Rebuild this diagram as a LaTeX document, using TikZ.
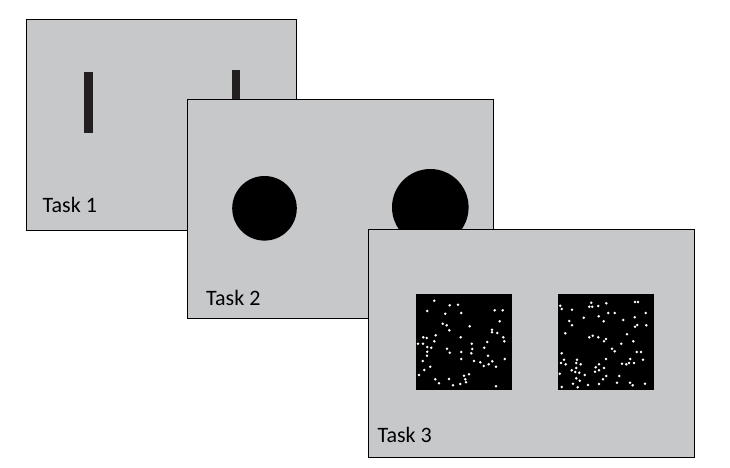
\documentclass[tikz,border=0pt]{standalone}
\usepackage{fontspec}
\setmainfont{Carlito}
\definecolor{screengray}{RGB}{199,200,202}
\definecolor{bardark}{RGB}{35,31,32}
\tikzset{
  panel/.style={draw=black,fill=screengray,line width=0.9pt},
  tasklabel/.style={anchor=base west,inner sep=0pt,font=\fontsize{22}{26}\selectfont},
  barstim/.style={fill=bardark},
  discstim/.style={fill=black},
  dotfield/.style={fill=black},
  dot/.style={fill=white}
}

\begin{document}
\begin{tikzpicture}[x=1pt,y=-1pt]
  \useasboundingbox (0,0) rectangle (730,467);

  % Task 1 : two bars
  \draw[panel] (26.5,19.3) rectangle (296.5,230);
  \fill[barstim] (84,72.3) rectangle (92.7,132.7);
  \fill[barstim] (231.7,70.3) rectangle (240,134);
  \node[tasklabel] (task1) at (42.5,212) {Task 1};

  % Task 2 : two discs
  \draw[panel] (187.3,99.3) rectangle (493.3,318.3);
  \fill[discstim] (264.5,208.3) circle[radius=32.3];
  \fill[discstim] (430.3,207.3) circle[radius=38.3];
  \node[tasklabel] (task2) at (206,305) {Task 2};

  % Task 3 : two dot fields
  \draw[panel] (368.3,229.3) rectangle (694.3,457.3);
  \fill[dotfield] (416,294) rectangle (512,389.7);
  \fill[dotfield] (558,294) rectangle (654,389.7);
  \begin{scope}[shift={(416,294)}]
    \foreach \x/\y in {18.3/6.7,33.7/11.3,42/10.7,11.3/17,29.3/19.7,45.3/19,78.7/16.3,86.7/16.3,
      83.7/27.3,26.7/29.7,30.7/31.3,33.3/36.3,53.7/32.3,76/35.7,76/38.3,81.3/39,7.3/43.3,
      10.7/44,19.7/41.3,44.7/43.3,87.3/43.3,88.3/47.3,18.3/47.3,2/49.7,7/49.7,11.3/53,
      15.3/53.7,31/54.7,33.7/58.7,55.7/49.7,56.3/55,55.3/59.3,71.3/48,68.3/53.7,11.3/57.7,
      11/61.7,45.3/58,72/61.7,6.7/67,14.3/72.7,45.3/65,58/67,64.3/68.3,67.7/72,72.7/70.3,
      76.3/67.3,80/72.7,88.7/65,8.3/76,3/81,33/85,19.3/85.3,23/89.3,37/91.3,44.3/90,
      48/81.7,49.3/85.3,50/88.3,53/80.3,80/92.3}
      \fill[dot] (\x,\y) circle[radius=1.4];
  \end{scope}
  \begin{scope}[shift={(558,294)}]
    \foreach \x/\y in {2.3/11.7,3.7/15,14/15.7,33.3/8.7,31.3/12.7,34.3/12.7,40.3/12,48.3/9.3,
      77/8,80/8,50.3/19,56.7/19,40.7/22.3,25.7/23.7,45.7/27.3,65.3/26,76.7/23.3,87.7/19,
      11.3/27,14/31.3,77/32.7,79.3/31,88.3/31.3,7.3/39.3,31.3/43.3,34.7/41.7,40.3/43.3,
      48/45,46/47.3,69/40.3,63.3/49.7,75.3/47.3,54/54.7,56.7/57.3,3.7/59.3,6/65.7,3/69,
      7.7/70.3,19/65.7,18.3/69,22.7/70.3,48/65,41/70.3,37.7/73.3,46/74,37/77.7,41/76.3,
      64/69.7,68.3/70.3,71/69,72.3/65,76/69,78.7/58,83/58,85/65.7,13.7/76.3,18.3/74,
      17.3/78,21.3/78.7,26.7/81,1.7/79.7,18.3/84.3,21.7/86.7,15/89.7,3.7/93,19.7/93.3,
      30/91,41/90,45/85.3,48.3/82,61.3/82,59/88.7,72/88.7,74.7/91.3,87/89.7}
      \fill[dot] (\x,\y) circle[radius=1.4];
  \end{scope}
  \node[tasklabel] (task3) at (377.3,442.7) {Task 3};
\end{tikzpicture}
\end{document}
